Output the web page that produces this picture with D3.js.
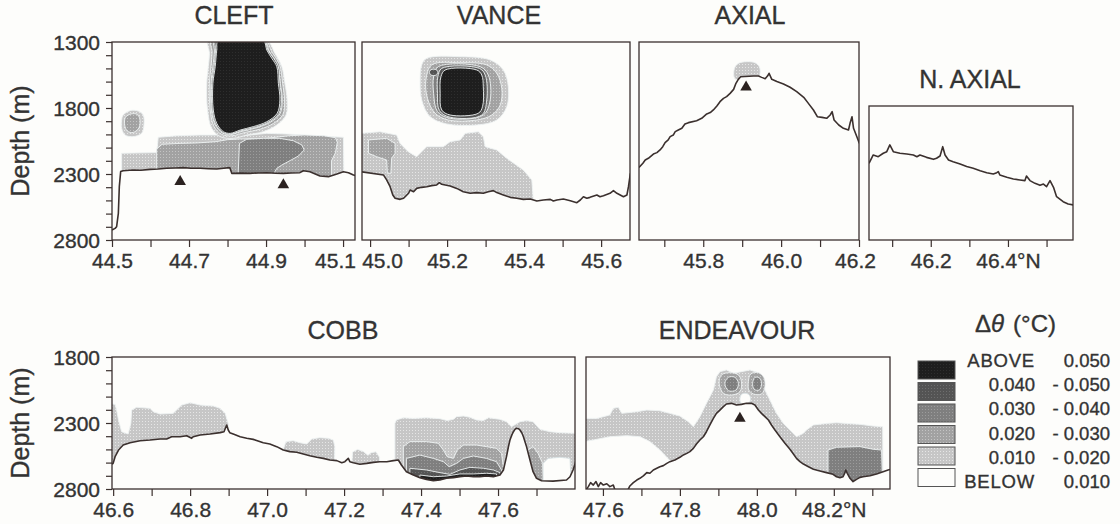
<!DOCTYPE html>
<html>
<head>
<meta charset="utf-8">
<script src="https://cdn.jsdelivr.net/npm/d3@7"></script>
<style>
  body { margin: 0; background: #fdfdfb; }
  svg { display: block; font-family: "Liberation Sans", Arial, Helvetica, sans-serif; }
  text { fill: #333; stroke: #333; stroke-width: 0.35px; }
</style>
</head>
<body>
<svg id="chart" width="1120" height="524"></svg>
<script>
// ---------------------------------------------------------------
// Along-axis sections of potential temperature anomaly (Δθ) over
// the Juan de Fuca Ridge segments.  Points are [latitude °N, depth m].
// ---------------------------------------------------------------

// ---- Cleft segment ----
const cleftBathy = [[44.500,2724],[44.508,2712],[44.512,2699],[44.5165,2598],[44.519,2396],[44.5225,2282],[44.529,2275],[44.555,2270],[44.575,2272],[44.599,2265],[44.620,2262],[44.642,2257],[44.665,2255],[44.685,2252],[44.705,2256],[44.729,2257],[44.750,2260],[44.772,2262],[44.790,2256],[44.806,2252],[44.811,2295],[44.835,2293],[44.858,2295],[44.880,2292],[44.902,2290],[44.925,2294],[44.945,2295],[44.965,2292],[44.988,2290],[44.997,2275],[45.014,2283],[45.040,2315],[45.062,2320],[45.084,2300],[45.101,2283],[45.114,2290],[45.127,2308],[45.134,2313]];
const cleftBand1 = [[44.525,2500],[44.525,2143],[44.616,2138],[44.620,2022],[44.668,2010],[44.729,2005],[44.781,2005],[44.815,2017],[44.902,1992],[44.954,1997],[45.040,2012],[45.101,2022],[45.103,2500]];
const cleftHalo1 = [[44.750,1290],[44.902,1290],[44.923,1386],[44.941,1487],[44.949,1613],[44.955,1739],[44.952,1853],[44.928,1929],[44.893,1979],[44.850,2005],[44.815,2030],[44.781,2017],[44.759,1954],[44.748,1815],[44.746,1613],[44.750,1487],[44.753,1386]];
const cleftBlob1 = [[44.529,1853],[44.547,1820],[44.568,1823],[44.581,1853],[44.583,1929],[44.577,1992],[44.555,2017],[44.534,2005],[44.525,1954],[44.525,1891]];
const cleftBand2 = [[44.616,2500],[44.616,2110],[44.630,2075],[44.677,2068],[44.720,2065],[44.770,2055],[44.800,2040],[44.830,2035],[44.900,2030],[44.960,2010],[45.000,2005],[45.050,2010],[45.080,2025],[45.085,2060],[45.080,2140],[45.070,2200],[45.070,2500]];
const cleftHalo2 = [[44.758,1290],[44.898,1290],[44.915,1375],[44.935,1470],[44.943,1613],[44.948,1739],[44.944,1848],[44.920,1915],[44.885,1960],[44.845,1985],[44.812,2010],[44.785,2000],[44.765,1940],[44.755,1815],[44.753,1613],[44.757,1487],[44.760,1375]];
const cleftBlob2 = [[44.535,1870],[44.550,1845],[44.565,1848],[44.572,1880],[44.570,1950],[44.555,1985],[44.540,1975],[44.533,1930]];
const cleftBand3 = [[44.828,2500],[44.828,2270],[44.831,2068],[44.850,2037],[44.893,2030],[44.936,2030],[44.971,2048],[44.993,2080],[44.999,2118],[44.984,2164],[44.962,2199],[44.941,2232],[44.928,2257],[44.923,2282],[44.920,2500]];
const cleftHalo3 = [[44.766,1290],[44.896,1290],[44.908,1368],[44.930,1480],[44.937,1613],[44.942,1739],[44.936,1845],[44.910,1910],[44.875,1950],[44.838,1977],[44.809,2000],[44.787,1990],[44.768,1928],[44.758,1815],[44.757,1613],[44.762,1487],[44.766,1368]];
const cleftHalo4 = [[44.770,1290],[44.895,1290],[44.905,1361],[44.920,1424],[44.932,1487],[44.936,1613],[44.940,1739],[44.933,1843],[44.905,1910],[44.870,1948],[44.835,1973],[44.808,1998],[44.787,1985],[44.769,1920],[44.760,1815],[44.759,1613],[44.765,1487],[44.769,1361]];
const cleftCore5 = [[44.776,1290],[44.893,1290],[44.902,1361],[44.915,1424],[44.928,1487],[44.932,1613],[44.936,1739],[44.929,1840],[44.902,1904],[44.867,1941],[44.833,1967],[44.807,1992],[44.789,1979],[44.772,1916],[44.763,1815],[44.762,1613],[44.768,1487],[44.772,1361]];
const cleftVents = [[44.677,2358],[44.945,2383]];

// ---- Vance segment ----
const vanceBathy = [[44.975,2282],[45.035,2308],[45.043,2345],[45.052,2396],[45.059,2459],[45.065,2484],[45.078,2492],[45.087,2484],[45.091,2472],[45.100,2446],[45.104,2421],[45.113,2434],[45.121,2409],[45.134,2401],[45.147,2396],[45.160,2388],[45.173,2383],[45.180,2366],[45.186,2378],[45.195,2383],[45.208,2391],[45.225,2409],[45.242,2434],[45.260,2446],[45.277,2441],[45.294,2446],[45.307,2434],[45.320,2426],[45.329,2441],[45.346,2459],[45.364,2477],[45.381,2484],[45.398,2492],[45.416,2489],[45.433,2505],[45.450,2497],[45.468,2492],[45.476,2505],[45.485,2497],[45.502,2489],[45.520,2502],[45.537,2517],[45.546,2497],[45.554,2472],[45.563,2484],[45.571,2477],[45.589,2459],[45.597,2472],[45.606,2464],[45.623,2446],[45.632,2426],[45.641,2446],[45.658,2472],[45.667,2459],[45.671,2396],[45.676,2295]];
const vanceBand1 = [[44.975,2800],[44.975,1992],[45.026,1980],[45.069,2005],[45.078,2068],[45.099,2131],[45.121,2169],[45.134,2131],[45.147,2093],[45.190,2093],[45.208,2055],[45.234,2042],[45.247,1992],[45.281,1980],[45.294,2017],[45.299,2093],[45.329,2118],[45.355,2181],[45.398,2270],[45.420,2345],[45.424,2497],[45.424,2800]];
const vanceSpot2 = [[44.996,2042],[45.043,2030],[45.065,2068],[45.065,2143],[45.056,2181],[45.054,2295],[45.045,2295],[45.043,2194],[45.017,2169],[44.996,2143]];
const vanceHalo1 = [[45.147,1424],[45.234,1411],[45.312,1436],[45.346,1512],[45.359,1639],[45.355,1790],[45.329,1891],[45.277,1929],[45.199,1921],[45.156,1866],[45.134,1739],[45.130,1588],[45.134,1474]];
const vanceHalo2 = [[45.160,1474],[45.234,1457],[45.303,1474],[45.329,1537],[45.342,1651],[45.338,1777],[45.316,1853],[45.277,1891],[45.203,1891],[45.169,1840],[45.149,1727],[45.145,1588]];
const vanceHalo3 = [[45.177,1487],[45.286,1487],[45.307,1550],[45.312,1739],[45.294,1853],[45.208,1878],[45.175,1828],[45.165,1689],[45.165,1563]];
const vanceSpot4 = [[45.158,1510],[45.172,1510],[45.176,1530],[45.172,1550],[45.158,1550],[45.154,1530]];
const vanceHalo4 = [[45.186,1500],[45.284,1500],[45.299,1550],[45.303,1739],[45.290,1853],[45.208,1870],[45.180,1820],[45.175,1689],[45.176,1563]];
const vanceCore5 = [[45.195,1512],[45.277,1512],[45.290,1550],[45.294,1639],[45.292,1790],[45.281,1840],[45.208,1853],[45.186,1815],[45.182,1689],[45.184,1563]];

// ---- Axial segment ----
const axialBathy = [[45.635,2250],[45.645,2219],[45.651,2194],[45.659,2181],[45.672,2149],[45.681,2138],[45.689,2118],[45.696,2093],[45.702,2063],[45.710,2042],[45.715,2017],[45.723,2005],[45.728,1979],[45.736,1967],[45.745,1954],[45.753,1921],[45.762,1911],[45.783,1896],[45.796,1878],[45.809,1845],[45.818,1835],[45.826,1815],[45.835,1785],[45.843,1752],[45.852,1727],[45.860,1714],[45.869,1689],[45.878,1659],[45.884,1613],[45.890,1583],[45.896,1563],[45.929,1558],[45.942,1558],[45.950,1568],[45.959,1578],[45.965,1558],[45.969,1537],[45.976,1583],[45.989,1600],[46.006,1618],[46.023,1643],[46.040,1676],[46.058,1719],[46.070,1765],[46.083,1815],[46.093,1866],[46.105,1871],[46.117,1878],[46.126,1853],[46.131,1828],[46.136,1891],[46.148,1929],[46.160,1954],[46.173,1967],[46.177,1916],[46.182,1866],[46.186,1954],[46.195,2022],[46.201,2068]];
const axialPlume1 = [[45.882,1580],[45.880,1500],[45.890,1462],[45.912,1449],[45.933,1457],[45.944,1487],[45.946,1537],[45.940,1580]];
const axialVents = [[45.910,1643]];

// ---- North Axial ----
const nAxialBathy = [[46.040,2219],[46.051,2156],[46.064,2169],[46.077,2143],[46.086,2131],[46.094,2080],[46.103,2131],[46.120,2143],[46.138,2149],[46.155,2156],[46.164,2169],[46.172,2156],[46.189,2174],[46.207,2189],[46.215,2181],[46.224,2164],[46.231,2093],[46.237,2156],[46.246,2194],[46.258,2207],[46.276,2224],[46.293,2244],[46.310,2257],[46.328,2275],[46.345,2290],[46.362,2300],[46.371,2290],[46.375,2282],[46.379,2308],[46.397,2325],[46.414,2338],[46.431,2345],[46.444,2350],[46.448,2315],[46.457,2350],[46.470,2371],[46.483,2386],[46.492,2376],[46.500,2396],[46.509,2350],[46.518,2401],[46.526,2472],[46.543,2510],[46.556,2527],[46.570,2535]];

// ---- Cobb segment ----
const cobbBathy = [[46.590,2618],[46.600,2606],[46.605,2555],[46.614,2505],[46.626,2467],[46.644,2449],[46.670,2434],[46.696,2429],[46.722,2421],[46.739,2421],[46.752,2404],[46.774,2404],[46.791,2396],[46.804,2416],[46.808,2404],[46.826,2391],[46.852,2383],[46.878,2373],[46.888,2366],[46.895,2315],[46.899,2353],[46.903,2373],[46.912,2383],[46.930,2404],[46.947,2416],[46.964,2424],[46.990,2449],[47.007,2459],[47.025,2479],[47.042,2505],[47.059,2517],[47.077,2522],[47.094,2535],[47.111,2548],[47.129,2560],[47.146,2568],[47.163,2580],[47.181,2585],[47.194,2601],[47.202,2593],[47.211,2568],[47.215,2593],[47.224,2601],[47.241,2613],[47.259,2606],[47.276,2598],[47.293,2593],[47.311,2593],[47.328,2585],[47.341,2580],[47.349,2618],[47.362,2669],[47.380,2694],[47.397,2714],[47.414,2727],[47.432,2737],[47.449,2732],[47.466,2719],[47.484,2714],[47.501,2707],[47.518,2702],[47.536,2707],[47.553,2707],[47.570,2702],[47.588,2707],[47.605,2694],[47.614,2656],[47.622,2555],[47.627,2480],[47.631,2429],[47.636,2390],[47.640,2366],[47.644,2348],[47.648,2340],[47.653,2343],[47.657,2353],[47.662,2376],[47.666,2404],[47.674,2479],[47.683,2580],[47.691,2669],[47.700,2719],[47.713,2737],[47.743,2740],[47.778,2732],[47.787,2707],[47.795,2656],[47.802,2593]];
const cobbLeft1 = [[46.590,2800],[46.590,2151],[46.605,2159],[46.609,2202],[46.614,2277],[46.622,2366],[46.639,2383],[46.646,2303],[46.648,2202],[46.661,2181],[46.696,2189],[46.704,2214],[46.722,2232],[46.756,2227],[46.778,2164],[46.800,2146],[46.826,2164],[46.860,2171],[46.878,2189],[46.891,2227],[46.899,2303],[46.903,2404],[46.903,2800]];
const cobbMid1 = [[47.042,2650],[47.042,2500],[47.049,2441],[47.068,2434],[47.085,2449],[47.103,2459],[47.116,2421],[47.137,2411],[47.159,2416],[47.172,2429],[47.176,2479],[47.175,2650]];
const cobbSmall1 = [[47.219,2650],[47.222,2520],[47.235,2500],[47.250,2515],[47.262,2545],[47.270,2525],[47.283,2518],[47.292,2560],[47.293,2650]];
const cobbRight1 = [[47.332,2800],[47.332,2303],[47.336,2277],[47.354,2260],[47.380,2265],[47.414,2260],[47.449,2267],[47.468,2282],[47.484,2272],[47.492,2252],[47.510,2247],[47.527,2257],[47.544,2277],[47.562,2282],[47.575,2260],[47.588,2265],[47.605,2272],[47.622,2290],[47.635,2328],[47.657,2290],[47.674,2282],[47.691,2290],[47.709,2348],[47.735,2366],[47.761,2373],[47.802,2378],[47.802,2800]];
const cobbRightBelow = [[47.717,2760],[47.717,2606],[47.730,2568],[47.761,2560],[47.787,2568],[47.790,2760]];
const cobbRight2a = [[47.354,2800],[47.354,2479],[47.371,2441],[47.414,2441],[47.445,2454],[47.458,2505],[47.468,2555],[47.484,2568],[47.494,2505],[47.510,2467],[47.544,2467],[47.570,2479],[47.596,2492],[47.609,2530],[47.615,2656],[47.615,2800]];
const cobbRight2b = [[47.678,2800],[47.678,2505],[47.691,2479],[47.704,2530],[47.716,2606],[47.717,2707],[47.717,2800]];
const cobbRight3 = [[47.362,2800],[47.362,2568],[47.397,2543],[47.432,2568],[47.458,2593],[47.473,2631],[47.492,2606],[47.510,2568],[47.536,2550],[47.570,2568],[47.596,2593],[47.609,2656],[47.612,2800]];
const cobbRight4 = [[47.371,2800],[47.371,2643],[47.414,2656],[47.449,2676],[47.475,2689],[47.501,2656],[47.527,2636],[47.562,2643],[47.588,2656],[47.605,2676],[47.609,2800]];
const cobbRight5 = [[47.397,2800],[47.397,2694],[47.432,2707],[47.466,2702],[47.501,2686],[47.536,2686],[47.570,2681],[47.596,2686],[47.600,2800]];

// ---- Endeavour segment ----
const endeavourBathy = [[47.550,2830],[47.562,2782],[47.568,2752],[47.575,2770],[47.582,2744],[47.588,2782],[47.594,2752],[47.601,2770],[47.610,2760],[47.618,2782],[47.627,2770],[47.631,2805],[47.645,2840],[47.660,2840],[47.666,2800],[47.670,2777],[47.679,2752],[47.688,2732],[47.696,2719],[47.705,2701],[47.714,2676],[47.722,2681],[47.731,2656],[47.740,2643],[47.748,2631],[47.757,2623],[47.766,2606],[47.774,2593],[47.787,2580],[47.800,2560],[47.809,2542],[47.818,2530],[47.826,2517],[47.835,2492],[47.843,2459],[47.852,2429],[47.861,2404],[47.869,2366],[47.878,2315],[47.887,2265],[47.895,2227],[47.904,2202],[47.913,2176],[47.921,2156],[47.934,2151],[47.947,2164],[47.960,2159],[47.973,2151],[47.986,2151],[47.995,2164],[48.004,2202],[48.012,2227],[48.021,2252],[48.030,2277],[48.038,2315],[48.047,2353],[48.060,2404],[48.073,2454],[48.086,2499],[48.095,2535],[48.103,2568],[48.112,2593],[48.121,2611],[48.134,2631],[48.147,2651],[48.164,2664],[48.181,2676],[48.198,2689],[48.207,2707],[48.216,2714],[48.224,2707],[48.229,2676],[48.231,2656],[48.235,2681],[48.242,2719],[48.250,2744],[48.259,2727],[48.268,2712],[48.276,2707],[48.294,2699],[48.311,2686],[48.328,2669],[48.341,2656],[48.350,2650]];
const endeavourBand1 = [[47.550,2265],[47.584,2265],[47.618,2239],[47.627,2189],[47.640,2181],[47.649,2227],[47.688,2214],[47.714,2202],[47.748,2207],[47.774,2227],[47.800,2247],[47.822,2290],[47.835,2328],[47.852,2252],[47.869,2151],[47.887,2050],[47.895,1949],[47.904,1911],[47.921,1898],[47.939,1924],[47.960,1911],[47.982,1898],[48.008,1924],[48.018,1974],[48.021,2050],[48.034,2126],[48.051,2227],[48.069,2303],[48.086,2353],[48.103,2404],[48.121,2378],[48.129,2353],[48.147,2315],[48.181,2303],[48.207,2298],[48.233,2303],[48.268,2310],[48.302,2323],[48.327,2328],[48.328,2810],[47.783,2810],[47.774,2585],[47.748,2505],[47.722,2441],[47.696,2404],[47.662,2396],[47.618,2404],[47.575,2429],[47.550,2441]];
const endeavourHole = [[47.956,2113],[47.960,2083],[47.972,2075],[47.982,2095],[47.982,2138],[47.969,2156],[47.958,2146]];
const endeavourBlobL2 = [[47.902,1999],[47.908,1936],[47.930,1919],[47.952,1936],[47.960,1987],[47.956,2063],[47.934,2088],[47.913,2075]];
const endeavourBlobR2 = [[47.978,1987],[47.984,1929],[48.004,1919],[48.018,1954],[48.021,2025],[48.012,2080],[47.991,2080],[47.979,2050]];
const endeavourBlobL3 = [[47.917,1999],[47.926,1954],[47.943,1954],[47.952,1999],[47.946,2050],[47.926,2055]];
const endeavourBlobR3 = [[47.989,1999],[47.995,1954],[48.008,1962],[48.012,2012],[48.006,2050],[47.993,2045]];
const endeavourRight3 = [[48.185,2810],[48.185,2505],[48.207,2484],[48.268,2479],[48.302,2499],[48.324,2505],[48.327,2810]];
const endeavourVents = [[47.956,2265]];

// ---- Axis ticks and labels ----
const cleftTicks = [44.5,44.6,44.7,44.8,44.9,45.0,45.1];
const cleftTickLabels = ["44.5","44.7","44.9","45.1"];
const vanceTicks = [45.0,45.1,45.2,45.3,45.4,45.5,45.6];
const vanceTickLabels = ["45.0","45.2","45.4","45.6"];
const axialTicks = [45.7,45.8,45.9,46.0,46.1,46.2];
const axialTickLabels = ["45.8","46.0","46.2"];
const nAxialTicks = [46.1,46.2,46.3,46.4,46.5];
const nAxialTickLabels = ["46.2","46.4°N"];
const cobbTicks = [46.6,46.7,46.8,46.9,47.0,47.1,47.2,47.3,47.4,47.5,47.6,47.7];
const cobbTickLabels = ["46.6","46.8","47.0","47.2","47.4","47.6"];
const endeavourTicks = [47.6,47.7,47.8,47.9,48.0,48.1,48.2,48.3];
const endeavourTickLabels = ["47.6","47.8","48.0","48.2°N"];
const topDepthTicks = [1300,1400,1500,1600,1700,1800,1900,2000,2100,2200,2300,2400,2500,2600,2700,2800];
const topDepthLabels = [1300,1800,2300,2800];
const bottomDepthTicks = [1800,1900,2000,2100,2200,2300,2400,2500,2600,2700,2800];
const bottomDepthLabels = [1800,2300,2800];

// ---- Legend classes (darkest first) ----
const legendLevels = [5,4,3,2,1,0];
const legendLow  = ["ABOVE","0.040","0.030","0.020","0.010","BELOW"];
const legendHigh = ["0.050","- 0.050","- 0.040","- 0.030","- 0.020","0.010"];

// ---------------------------------------------------------------
const BG = "#fdfdfb";
const INK = "#3b302e";
// halftone shading: [base tone, dot tone] per anomaly class
const tones = [null, ["#c6c6c6","#e6e6e6"], ["#a2a2a2","#c4c4c4"], ["#7f7f7f","#9c9c9c"], ["#545454","#6e6e6e"], ["#1e1e1e","#2e2e2e"]];

const svg = d3.select("#chart");
const defs = svg.append("defs");
svg.append("rect").attr("width",1120).attr("height",524).attr("fill",BG).attr("stroke","none");

tones.forEach((t,i) => {
  if (!t) return;
  const pat = defs.append("pattern").attr("id","tone"+i).attr("patternUnits","userSpaceOnUse")
    .attr("width",3).attr("height",3);
  pat.append("rect").attr("width",3).attr("height",3).attr("fill",t[0]);
  pat.append("rect").attr("x",1).attr("y",1).attr("width",1).attr("height",1).attr("fill",t[1]);
});
const levelFill = l => l === 0 ? BG : `url(#tone${l})`;

const P = (level, pts, smooth) => ({level, pts, smooth: !!smooth});

const panels = [
  { id:"cleft", title:"CLEFT", titleAt:[234,24], lat:[44.5,45.131], depth:[1300,2800], box:[112,42,355,240],
    bathy: cleftBathy, vents: cleftVents, ticks: cleftTicks, labels: cleftTickLabels, nudge:{"45.1":-8},
    yTicks: topDepthTicks, yLabels: topDepthLabels,
    patches:[P(1,cleftBand1),P(1,cleftHalo1,1),P(1,cleftBlob1,1),P(2,cleftBand2),P(2,cleftHalo2,1),P(2,cleftBlob2,1),
             P(3,cleftBand3),P(3,cleftHalo3,1),P(4,cleftHalo4,1),P(5,cleftCore5,1)] },
  { id:"vance", title:"VANCE", titleAt:[499,24], lat:[44.979,45.675], depth:[1300,2800], box:[362,42,630,240],
    bathy: vanceBathy, vents: [], ticks: vanceTicks, labels: vanceTickLabels, nudge:{"45.0":12},
    patches:[P(1,vanceBand1),P(2,vanceSpot2),P(1,vanceHalo1,1),P(2,vanceHalo2,1),P(3,vanceHalo3,1),P(4,vanceSpot4,1),
             P(4,vanceHalo4,1),P(5,vanceCore5,1)] },
  { id:"axial", title:"AXIAL", titleAt:[750,24], lat:[45.635,46.2], depth:[1300,2800], box:[639,42,859,240],
    bathy: axialBathy, vents: axialVents, ticks: axialTicks, labels: axialTickLabels, nudge:{"46.2":-4},
    patches:[P(1,axialPlume1,1)] },
  { id:"naxial", title:"N. AXIAL", titleAt:[970,88], lat:[46.04,46.5685], depth:[1785,2800], box:[869,106,1073,240],
    bathy: nAxialBathy, vents: [], ticks: nAxialTicks, labels: nAxialTickLabels, patches:[] },
  { id:"cobb", title:"COBB", titleAt:[343,339], lat:[46.597,47.8], depth:[1800,2800], box:[112,357,575,489],
    bathy: cobbBathy, vents: [], ticks: cobbTicks, labels: cobbTickLabels,
    yTicks: bottomDepthTicks, yLabels: bottomDepthLabels,
    patches:[P(1,cobbLeft1),P(1,cobbMid1),P(1,cobbSmall1),P(1,cobbRight1),P(0,cobbRightBelow),P(2,cobbRight2a),P(2,cobbRight2b),
             P(3,cobbRight3),P(4,cobbRight4),P(5,cobbRight5)] },
  { id:"endeavour", title:"ENDEAVOUR", titleAt:[737,339], lat:[47.556,48.346], depth:[1800,2800], box:[586,357,890,489],
    bathy: endeavourBathy, vents: endeavourVents, ticks: endeavourTicks, labels: endeavourTickLabels,
    patches:[P(1,endeavourBand1),P(0,endeavourHole,1),P(2,endeavourBlobL2,1),P(2,endeavourBlobR2,1),
             P(3,endeavourBlobL3,1),P(3,endeavourBlobR3,1),P(3,endeavourRight3)] }
];

function drawPanel(p){
  const [x0,y0,x1,y1] = p.box;
  const x = d3.scaleLinear().domain(p.lat).range([x0,x1]);
  const y = d3.scaleLinear().domain(p.depth).range([y0,y1]);
  const g = svg.append("g").attr("class","panel-"+p.id);

  defs.append("clipPath").attr("id","clip-"+p.id)
    .append("rect").attr("x",x0).attr("y",y0).attr("width",x1-x0).attr("height",y1-y0);
  const inner = g.append("g").attr("clip-path",`url(#clip-${p.id})`);

  // temperature-anomaly patches, lightest class first
  p.patches.forEach(pt => {
    const shape = d3.line().x(d=>x(d[0])).y(d=>y(d[1]))
      .curve(pt.smooth ? d3.curveCatmullRomClosed.alpha(0.5) : d3.curveLinearClosed);
    inner.append("path").attr("d", shape(pt.pts))
      .attr("fill", levelFill(pt.level))
      .attr("stroke", pt.level === 0 ? "#d8e2e4" : "#eef3f3")
      .attr("stroke-width", 0.9);
  });

  // sea floor: blank out everything beneath the bathymetric profile
  const ground = d3.area().x(d=>x(d[0])).y0(y1+10).y1(d=>y(d[1]));
  inner.append("path").attr("d", ground(p.bathy)).attr("fill", BG);
  inner.append("path").attr("d", d3.line().x(d=>x(d[0])).y(d=>y(d[1]))(p.bathy))
    .attr("fill","none").attr("stroke",INK).attr("stroke-width",1.6).attr("stroke-linejoin","round");

  // vent-site markers
  p.vents.forEach(v => {
    inner.append("path").attr("d", d3.symbol(d3.symbolTriangle, 58)())
      .attr("transform",`translate(${x(v[0])},${y(v[1])})`).attr("fill","#2b2220");
  });

  // frame
  g.append("rect").attr("x",x0).attr("y",y0).attr("width",x1-x0).attr("height",y1-y0)
    .attr("fill","none").attr("stroke",INK).attr("stroke-width",1.3);

  // latitude axis
  const labelFor = v => p.labels.find(s => parseFloat(s) === +v.toFixed(1)) || "";
  const xAxis = d3.axisBottom(x).tickValues(p.ticks).tickFormat(labelFor)
    .tickSize(7).tickSizeOuter(0);
  const xg = g.append("g").attr("transform",`translate(0,${y1})`).call(xAxis)
    .attr("font-family",null).attr("font-size",null);
  xg.select(".domain").remove();
  xg.selectAll(".tick line").attr("stroke",INK).attr("stroke-width",1.2);
  xg.selectAll(".tick text").attr("y",28).attr("dy",null).attr("font-size",21)
    .attr("x", v => (p.nudge && p.nudge[labelFor(v)]) || 0);

  // depth axis
  if (p.yTicks){
    const yAxis = d3.axisLeft(y).tickValues(p.yTicks)
      .tickFormat(v => p.yLabels.includes(v) ? String(v) : "")
      .tickSize(6).tickSizeOuter(0).tickPadding(6);
    const yg = g.append("g").attr("transform",`translate(${x0},0)`).call(yAxis)
      .attr("font-family",null).attr("font-size",null);
    yg.select(".domain").remove();
    yg.selectAll(".tick line").attr("stroke",INK).attr("stroke-width",1.2);
    yg.selectAll(".tick text").attr("font-size",21).attr("dy","0.36em");
    svg.append("text").attr("transform",`translate(29,${(y0+y1)/2}) rotate(-90)`)
      .attr("text-anchor","middle").attr("font-size",25).text("Depth (m)");
  }

  svg.append("text").attr("x",p.titleAt[0]).attr("y",p.titleAt[1])
    .attr("text-anchor","middle").attr("font-size",25).text(p.title);
}

panels.forEach(drawPanel);

// ---- legend ----
const lg = svg.append("g").attr("class","legend");
const lt = lg.append("text").attr("x",975).attr("y",332).attr("font-size",24);
lt.append("tspan").text("Δ");
lt.append("tspan").attr("font-style","italic").text("θ");
lt.append("tspan").attr("dx",9).text("(°C)");

const boxY = d3.scaleLinear().domain([0,5]).range([361,468.5]);
const rowY = d3.scaleLinear().domain([0,5]).range([367,488]);
legendLevels.forEach((lev,i) => {
  lg.append("rect").attr("x",918).attr("y",boxY(i)).attr("width",37).attr("height",18)
    .attr("fill",levelFill(lev)).attr("stroke","#555").attr("stroke-width",1);
  lg.append("text").attr("x",1035).attr("y",rowY(i)).attr("text-anchor","end")
    .attr("font-size",18.5).attr("letter-spacing", isNaN(+legendLow[i]) ? 0.8 : 0)
    .text(legendLow[i]);
  lg.append("text").attr("x",1110).attr("y",rowY(i)).attr("text-anchor","end")
    .attr("font-size",18.5).text(legendHigh[i]);
});
</script>
</body>
</html>
